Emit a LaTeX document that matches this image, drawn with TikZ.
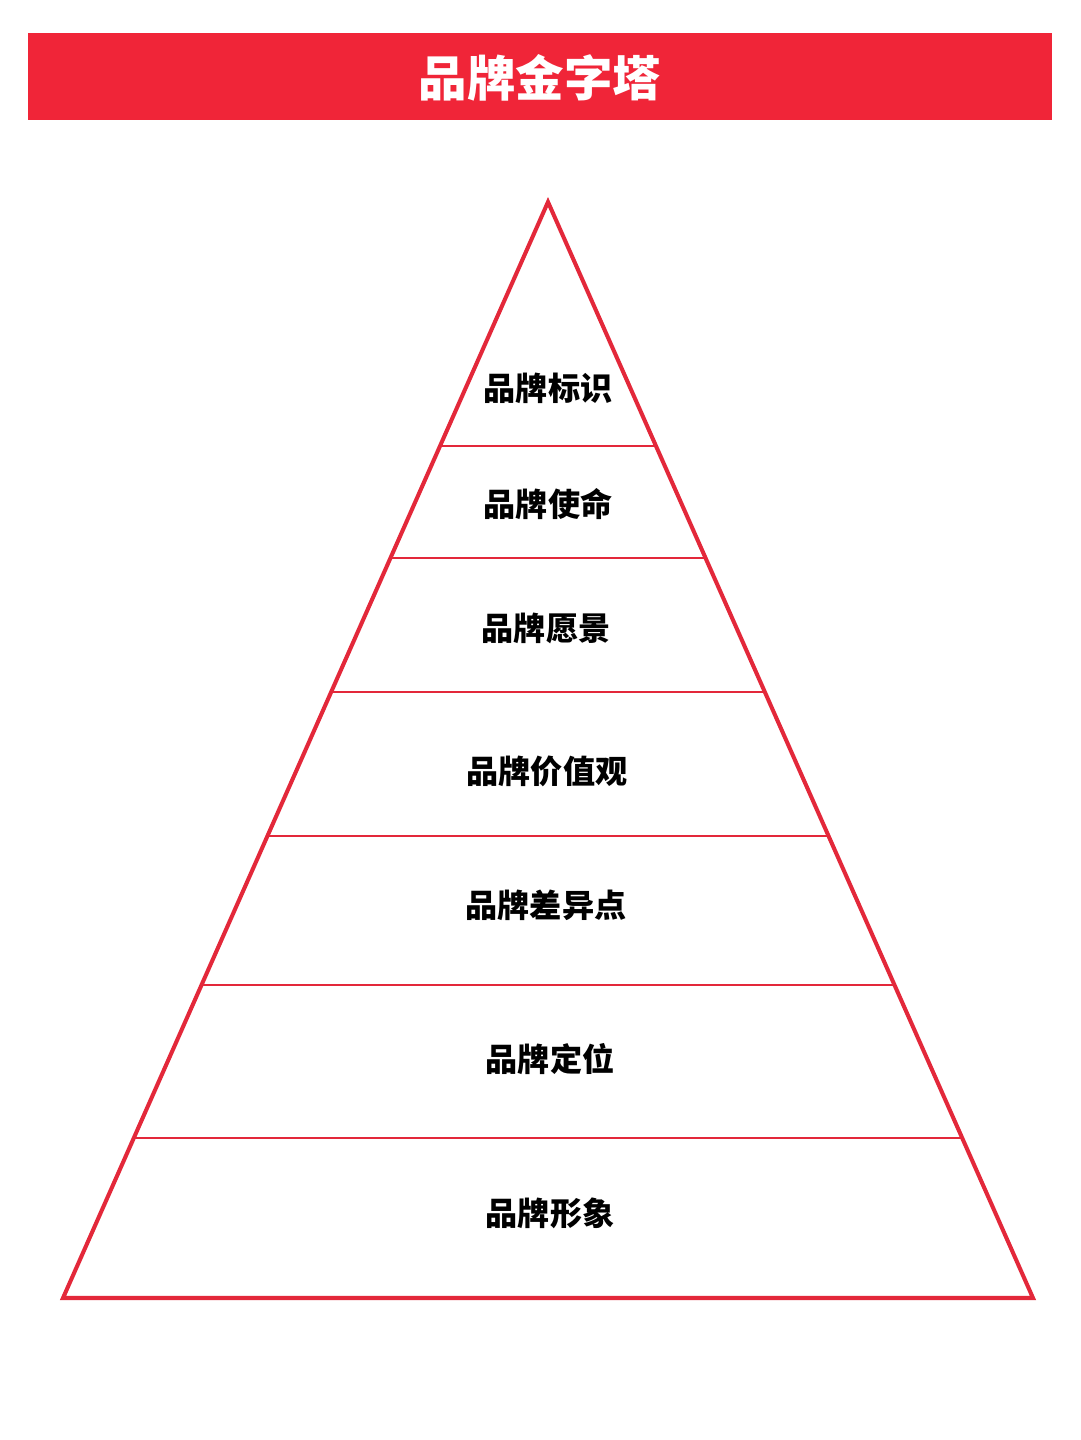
\documentclass[tikz,border=0pt]{standalone}
\usepackage{fontspec}
\newfontfamily\cjk{Noto Sans CJK SC}
\usetikzlibrary{calc}
\definecolor{brandred}{HTML}{F02538}
\definecolor{linered}{HTML}{E3283A}
\begin{document}
\begin{tikzpicture}[x=0.02cm,y=-0.02cm]
        \tikzstyle{banner}=[fill=brandred,draw=none]
        \tikzstyle{heading}=[font=\cjk\bfseries\fontsize{27.6}{27.6}\selectfont,text=white]
        \tikzstyle{layer}=[font=\cjk\bfseries\fontsize{18.3}{18.3}\selectfont,text=black]
        \tikzstyle{outline}=[draw=linered,line width=2.3pt,line join=miter]
        \tikzstyle{divider}=[draw=linered,line width=1.1pt]
        \useasboundingbox (0,0) rectangle (1080,1440);
        \fill[white] (0,0) rectangle (1080,1440);
        \path[banner] (28,33) rectangle (1052,120);
        \node [heading] (title) at (540,78) {品牌金字塔};
        \coordinate (apex) at (548,202);
        \coordinate (bl) at (63,1298);
        \coordinate (br) at (1033,1298);
        \path[outline] (apex) -- (bl) -- (br) -- cycle;
        \foreach \y in {446,558,692,836,985,1138} {
          \path[divider] ($(apex)!{(\y-202)/1096}!(bl)$) -- ($(apex)!{(\y-202)/1096}!(br)$);
        }
        \node [layer] (mark) at (548,388) {品牌标识};
        \node [layer] (mission) at (548,504) {品牌使命};
        \node [layer] (vision) at (546,628) {品牌愿景};
        \node [layer] (values) at (547,771) {品牌价值观};
        \node [layer] (diff) at (546,905) {品牌差异点};
        \node [layer] (position) at (550,1059) {品牌定位};
        \node [layer] (image) at (550,1213) {品牌形象};
\end{tikzpicture}
\end{document}
